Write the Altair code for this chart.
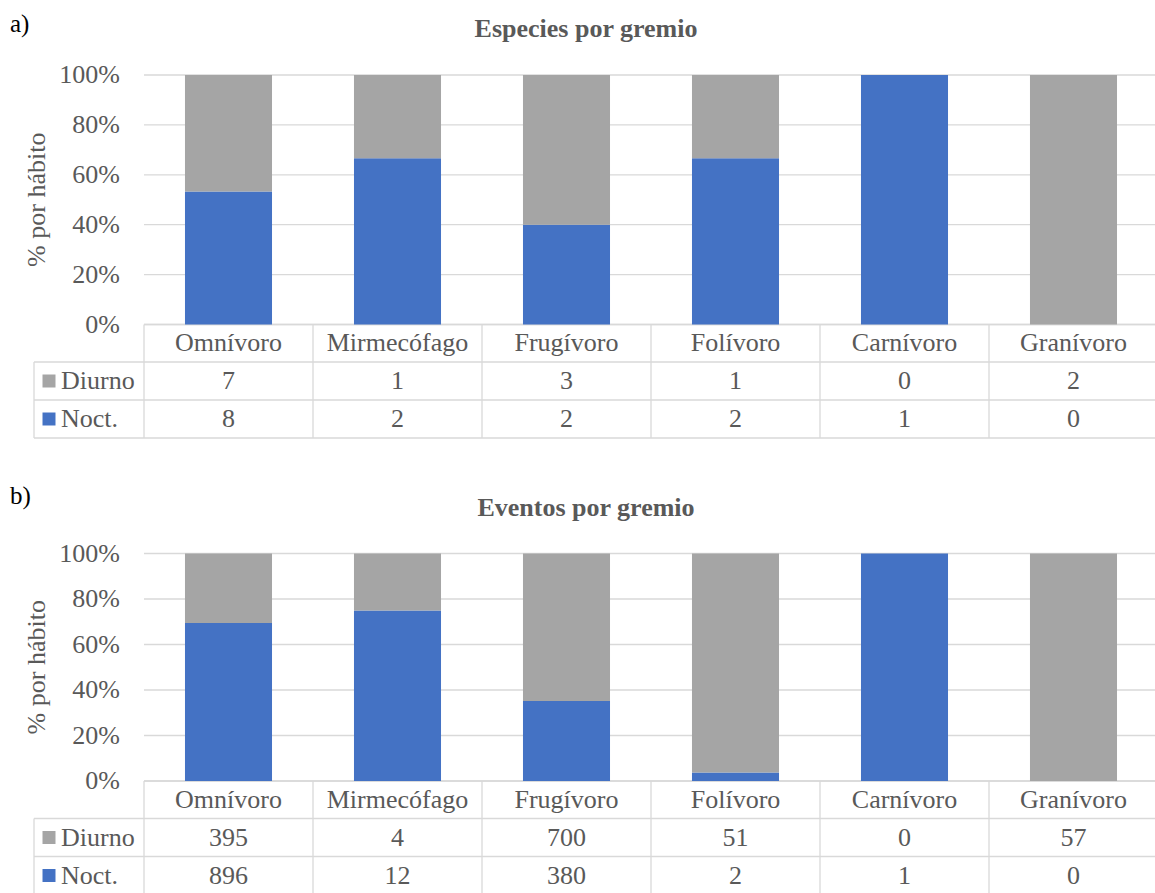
import altair as alt
import pandas as pd

# ---------------- data ----------------
categorias = ["Omnívoro", "Mirmecófago", "Frugívoro", "Folívoro", "Carnívoro", "Granívoro"]
habitos = ["Diurno", "Noct."]
diurno_especies = [7, 1, 3, 1, 0, 2]
noct_especies = [8, 2, 2, 2, 1, 0]
diurno_eventos = [395, 4, 700, 51, 0, 57]
noct_eventos = [896, 12, 380, 2, 1, 0]
ticks = [0.0, 0.2, 0.4, 0.6, 0.8, 1.0]
tick_labels = ["0%", "20%", "40%", "60%", "80%", "100%"]
titulos = ["Especies por gremio", "Eventos por gremio"]
letras = ["a)", "b)"]
eje_y = "% por hábito"

# ---------------- layout (pixels) ----------------
W, H = 1011, 818          # plot canvas (origin at first panel's plot top-left)
COL = 169.0               # px per category column
NCOL = len(categorias)
FONT = "Liberation Serif"
TXT = "#595959"
GRID = "#D9D9D9"
COLORS = ["#A5A5A5", "#4472C4"]

xs = alt.Scale(domain=[0, W / COL], nice=False, zero=False)
color = alt.Color("habit:N", scale=alt.Scale(domain=habitos, range=COLORS), legend=None)

LEG_L = -110 / COL     # left edge of legend column
SQ_X = -95 / COL       # legend square centre
LAB_X = -83 / COL      # legend label start
YT_X = -107 / COL      # y-title centre


def panel(title, letter, diurno, noct, P, top_px, title_up, letter_up):
    u = 1.0 / P
    ys = alt.Scale(domain=[1 - (H - top_px) * u, 1 + top_px * u], nice=False, zero=False)
    rows = [37.5, 38, 38]
    r_edges = [0, -rows[0] * u, -(rows[0] + rows[1]) * u, -(rows[0] + rows[1] + rows[2]) * u]
    r_cent = [(r_edges[i] + r_edges[i + 1]) / 2 for i in range(3)]

    # bars
    recs = []
    for i, c in enumerate(categorias):
        recs.append({"cat": c, "idx": i, "habit": "Noct.", "count": noct[i], "order": 0})
        recs.append({"cat": c, "idx": i, "habit": "Diurno", "count": diurno[i], "order": 1})
    df = pd.DataFrame(recs)
    bars = (
        alt.Chart(df)
        .transform_stack(stack="count", groupby=["cat"], as_=["y0", "y1"],
                         offset="normalize", sort=[alt.SortField("order")])
        .transform_calculate(xl="datum.idx + 0.5 - 0.2575", xr="datum.idx + 0.5 + 0.2575")
        .mark_rect()
        .encode(x=alt.X("xl:Q", scale=xs, axis=None), x2="xr:Q",
                y=alt.Y("y0:Q", scale=ys, axis=None), y2="y1:Q", color=color)
    )

    # gridlines & tick labels
    tdf = pd.DataFrame({"v": ticks, "lab": tick_labels})
    grid = (
        alt.Chart(tdf)
        .transform_calculate(x0="0", x1=str(NCOL))
        .mark_rule(color=GRID, strokeWidth=1.3)
        .encode(x=alt.X("x0:Q", scale=xs, axis=None), x2="x1:Q",
                y=alt.Y("v:Q", scale=ys, axis=None))
    )
    tlabels = (
        alt.Chart(tdf)
        .mark_text(align="right", baseline="middle", fontSize=26, color=TXT, font=FONT)
        .encode(x=alt.value(-24), y=alt.Y("v:Q", scale=ys, axis=None), text="lab:N")
    )

    # table lines
    hl = [{"x0": 0, "x1": NCOL, "y": r_edges[0]}]
    for k in (1, 2, 3):
        hl.append({"x0": LEG_L, "x1": NCOL, "y": r_edges[k]})
    hlines = (
        alt.Chart(pd.DataFrame(hl))
        .mark_rule(color=GRID, strokeWidth=1.3)
        .encode(x=alt.X("x0:Q", scale=xs, axis=None), x2="x1:Q",
                y=alt.Y("y:Q", scale=ys, axis=None))
    )
    vl = [{"x": LEG_L, "y0": r_edges[1], "y1": r_edges[3]}]
    for k in range(NCOL + 1):
        vl.append({"x": k, "y0": r_edges[0], "y1": r_edges[3]})
    vlines = (
        alt.Chart(pd.DataFrame(vl))
        .mark_rule(color=GRID, strokeWidth=1.3)
        .encode(x=alt.X("x:Q", scale=xs, axis=None),
                y=alt.Y("y0:Q", scale=ys, axis=None), y2="y1:Q")
    )

    # table texts
    trec = []
    for i, c in enumerate(categorias):
        trec.append({"x": i + 0.5, "y": r_cent[0], "t": c})
        trec.append({"x": i + 0.5, "y": r_cent[1], "t": str(diurno[i])})
        trec.append({"x": i + 0.5, "y": r_cent[2], "t": str(noct[i])})
    ttext = (
        alt.Chart(pd.DataFrame(trec))
        .mark_text(align="center", baseline="middle", fontSize=26, color=TXT, font=FONT)
        .encode(x=alt.X("x:Q", scale=xs, axis=None), y=alt.Y("y:Q", scale=ys, axis=None), text="t:N")
    )
    ldf = pd.DataFrame({"habit": habitos, "y": [r_cent[1], r_cent[2]],
                        "xs": [SQ_X, SQ_X], "xl": [LAB_X, LAB_X]})
    lsq = (
        alt.Chart(ldf)
        .mark_square(size=169, opacity=1, filled=True)
        .encode(x=alt.X("xs:Q", scale=xs, axis=None), y=alt.Y("y:Q", scale=ys, axis=None), color=color)
    )
    llab = (
        alt.Chart(ldf)
        .mark_text(align="left", baseline="middle", fontSize=26, color=TXT, font=FONT)
        .encode(x=alt.X("xl:Q", scale=xs, axis=None), y=alt.Y("y:Q", scale=ys, axis=None), text="habit:N")
    )

    # titles
    adf = pd.DataFrame([
        {"x": 442 / COL, "y": 1 + title_up * u, "t": title},
    ])
    ttl = (
        alt.Chart(adf)
        .mark_text(align="center", baseline="alphabetic", fontSize=26, fontWeight="bold",
                   color=TXT, font=FONT)
        .encode(x=alt.X("x:Q", scale=xs, axis=None), y=alt.Y("y:Q", scale=ys, axis=None), text="t:N")
    )
    bdf = pd.DataFrame([{"x": -134 / COL, "y": 1 + letter_up * u, "t": letter}])
    let = (
        alt.Chart(bdf)
        .mark_text(align="left", baseline="alphabetic", fontSize=25, color="#000000", font=FONT)
        .encode(x=alt.X("x:Q", scale=xs, axis=None), y=alt.Y("y:Q", scale=ys, axis=None), text="t:N")
    )
    ydf = pd.DataFrame([{"x": YT_X, "y": 0.5, "t": eje_y}])
    ytitle = (
        alt.Chart(ydf)
        .mark_text(align="center", baseline="middle", angle=270, fontSize=26, color=TXT, font=FONT)
        .encode(x=alt.X("x:Q", scale=xs, axis=None), y=alt.Y("y:Q", scale=ys, axis=None), text="t:N")
    )
    return alt.layer(grid, hlines, vlines, bars, tlabels, ttext, lsq, llab, ttl, let, ytitle)


pa = panel(titulos[0], letras[0], diurno_especies, noct_especies, 249.5, 0.0, 38, 43.5)
pb = panel(titulos[1], letras[1], diurno_eventos, noct_eventos, 227.5, 478.5, 38, 50)

chart = (
    alt.layer(pa, pb)
    .resolve_scale(y="independent")
    .properties(width=W, height=H, autosize=alt.AutoSizeParams(type="none"),
                padding={"left": 144, "top": 75, "right": 0, "bottom": 0})
    .configure_view(stroke=None)
)

chart.save("out.html", embed_options={"renderer": "svg", "actions": False})
